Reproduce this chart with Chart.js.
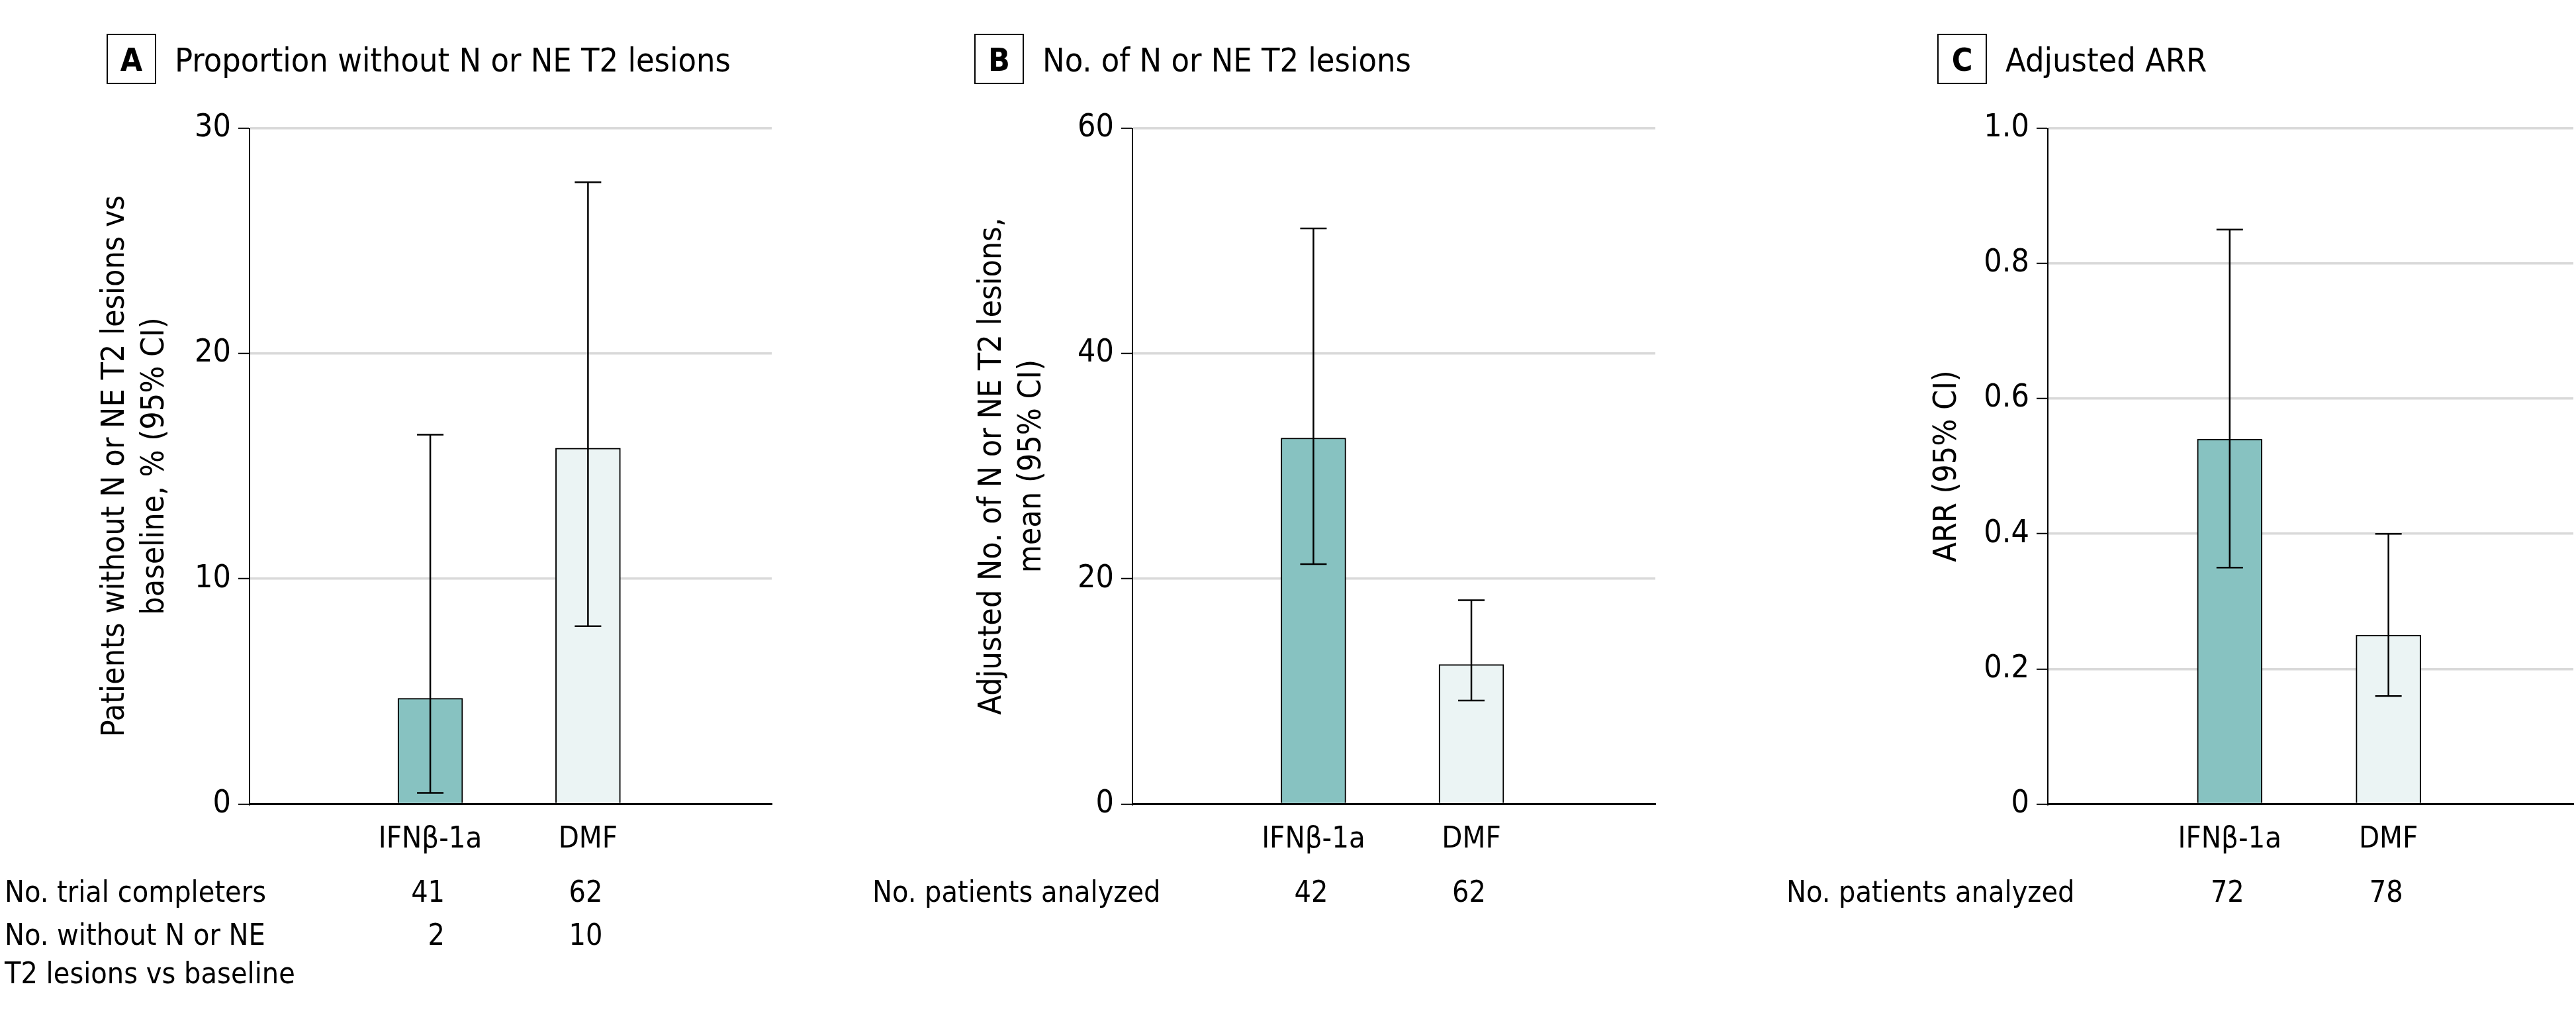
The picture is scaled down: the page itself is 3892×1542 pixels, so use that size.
<!DOCTYPE html>
<html lang="en">
<head>
<meta charset="UTF-8">
<title>IFNβ-1a vs DMF</title>
<script src="https://cdn.jsdelivr.net/npm/chart.js@4.4.1/dist/chart.umd.min.js"></script>
<style>
  body { margin: 0; background: #fff; }
  #wrap { position: relative; width: 3892px; height: 1542px; }
  canvas { position: absolute; top: 0; }
</style>
</head>
<body>
<div id="wrap">
  <canvas id="chartA" width="1290" height="1542" style="left:0"></canvas>
  <canvas id="chartB" width="1300" height="1542" style="left:1290px"></canvas>
  <canvas id="chartC" width="1302" height="1542" style="left:2590px"></canvas>
</div>
<script>
// groups
const groups = ['IFNβ-1a', 'DMF'];
const barColors = ['#87c2c1', '#ebf4f4'];

// A - proportion without N or NE T2 lesions (%)
const propValues = [4.7, 15.8];
const propLow = [0.5, 7.9];
const propHigh = [16.4, 27.6];
const propTicks = [0, 10, 20, 30];
const propTickLabels = ['0', '10', '20', '30'];
const completers = [41, 62];
const withoutLesions = [2, 10];

// B - number of N or NE T2 lesions
const lesionValues = [32.5, 12.4];
const lesionLow = [21.3, 9.2];
const lesionHigh = [51.1, 18.1];
const lesionTicks = [0, 20, 40, 60];
const lesionTickLabels = ['0', '20', '40', '60'];
const analyzedB = [42, 62];

// C - adjusted ARR
const arrValues = [0.54, 0.25];
const arrLow = [0.35, 0.16];
const arrHigh = [0.85, 0.40];
const arrTicks = [0, 0.2, 0.4, 0.6, 0.8, 1.0];
const arrTickLabels = ['0', '0.2', '0.4', '0.6', '0.8', '1.0'];
const analyzedC = [72, 78];

const FONT = '"Liberation Sans Narrow", "DejaVu Sans Condensed", "Noto Sans", sans-serif';
Chart.defaults.font.family = FONT;
Chart.defaults.color = '#000';

function panelPlugin(p) {
  return {
    id: 'panelText',
    afterDatasetsDraw(chart) {
      const ctx = chart.ctx;
      const y = chart.scales.y;
      const meta = chart.getDatasetMeta(0);
      // error bars
      ctx.save();
      ctx.strokeStyle = '#000';
      ctx.lineWidth = 2.5;
      meta.data.forEach((bar, i) => {
        const x = bar.x;
        const yl = y.getPixelForValue(p.low[i]);
        const yh = y.getPixelForValue(p.high[i]);
        ctx.beginPath();
        ctx.moveTo(x, yl); ctx.lineTo(x, yh);
        ctx.moveTo(x - 20, yl); ctx.lineTo(x + 20, yl);
        ctx.moveTo(x - 20, yh); ctx.lineTo(x + 20, yh);
        ctx.stroke();
      });
      ctx.restore();
    },
    afterDraw(chart) {
      const ctx = chart.ctx;
      const meta = chart.getDatasetMeta(0);
      ctx.save();
      ctx.fillStyle = '#000';
      ctx.strokeStyle = '#000';
      // heading with boxed letter
      ctx.lineWidth = 2;
      ctx.strokeRect(p.boxX, 52, 73, 74);
      ctx.font = 'bold 48px ' + FONT;
      ctx.textAlign = 'center';
      ctx.textBaseline = 'alphabetic';
      ctx.fillText(p.letter, p.boxX + 36.5, 107);
      ctx.font = '50px ' + FONT;
      ctx.textAlign = 'left';
      ctx.fillText(p.heading, p.boxX + 102, 108);
      // rows under the chart
      ctx.font = '44.5px ' + FONT;
      p.rows.forEach(r => {
        ctx.textAlign = 'left';
        r.label.forEach((line, k) => ctx.fillText(line, p.rowX, r.y + k * 58));
        ctx.textAlign = 'right';
        r.values.forEach((v, i) => ctx.fillText(String(v), meta.data[i].x + 22, r.y));
      });
      ctx.restore();
    }
  };
}

function makePanel(id, p) {
  return new Chart(document.getElementById(id), {
    type: 'bar',
    data: {
      datasets: [{
        data: p.values.map((v, i) => ({ x: i, y: v })),
        backgroundColor: barColors,
        borderColor: '#000',
        borderWidth: 2,
        barThickness: 98
      }]
    },
    options: {
      responsive: false,
      animation: false,
      devicePixelRatio: 1,
      layout: { padding: { top: 193.5, right: p.padRight, bottom: 0, left: 0 } },
      plugins: { legend: { display: false }, tooltip: { enabled: false } },
      scales: {
        x: {
          type: 'linear', min: -1.146, max: 2.165, offset: false,
          grid: { display: false, drawTicks: false },
          border: { color: '#000', width: 3 },
          afterBuildTicks: s => { s.ticks = groups.map((g, i) => ({ value: i })); },
          afterFit: s => { s.height = 1542 - 1214.6; s.paddingLeft = 0; s.paddingRight = 0; },
          ticks: {
            callback: v => groups[v], padding: 26, maxRotation: 0, autoSkip: false,
            color: '#000', font: { size: 45, lineHeight: 1.25 }
          }
        },
        y: {
          min: 0, max: p.ticks[p.ticks.length - 1],
          afterBuildTicks: s => { s.ticks = p.ticks.map(v => ({ value: v })); },
          afterFit: s => { s.width = p.axisWidth; s.paddingTop = 0; s.paddingBottom = 0; },
          grid: {
            color: c => (c.tick && c.tick.value === 0) ? 'rgba(0,0,0,0)' : '#d9d9d9',
            lineWidth: 3.5, tickColor: '#000', tickLength: 17, tickWidth: 2
          },
          border: { color: '#000', width: 2 },
          ticks: { callback: (v, i) => p.tickLabels[i], padding: 11, color: '#000', font: { size: 48 } },
          title: {
            display: true, text: p.yTitle, color: '#000',
            font: { size: 48, lineHeight: 1.25 }, padding: { top: p.titlePad, bottom: 0 }
          }
        }
      }
    },
    plugins: [panelPlugin(p)]
  });
}

makePanel('chartA', {
  letter: 'A', heading: 'Proportion without N or NE T2 lesions', boxX: 162,
  yTitle: ['Patients without N or NE T2 lesions vs', 'baseline, % (95% CI)'], titlePad: 145,
  axisWidth: 377, padRight: 124,
  values: propValues, low: propLow, high: propHigh, ticks: propTicks, tickLabels: propTickLabels,
  rowX: 7,
  rows: [
    { label: ['No. trial completers'], y: 1362, values: completers },
    { label: ['No. without N or NE', 'T2 lesions vs baseline'], y: 1427, values: withoutLesions }
  ]
});

makePanel('chartB', {
  letter: 'B', heading: 'No. of N or NE T2 lesions', boxX: 183,
  yTitle: ['Adjusted No. of N or NE T2 lesions,', 'mean (95% CI)'], titlePad: 180,
  axisWidth: 421, padRight: 89,
  values: lesionValues, low: lesionLow, high: lesionHigh, ticks: lesionTicks, tickLabels: lesionTickLabels,
  rowX: 28,
  rows: [
    { label: ['No. patients analyzed'], y: 1362, values: analyzedB }
  ]
});

makePanel('chartC', {
  letter: 'C', heading: 'Adjusted ARR', boxX: 338,
  yTitle: 'ARR (95% CI)', titlePad: 323,
  axisWidth: 504, padRight: 4,
  values: arrValues, low: arrLow, high: arrHigh, ticks: arrTicks, tickLabels: arrTickLabels,
  rowX: 109,
  rows: [
    { label: ['No. patients analyzed'], y: 1362, values: analyzedC }
  ]
});
</script>
</body>
</html>
